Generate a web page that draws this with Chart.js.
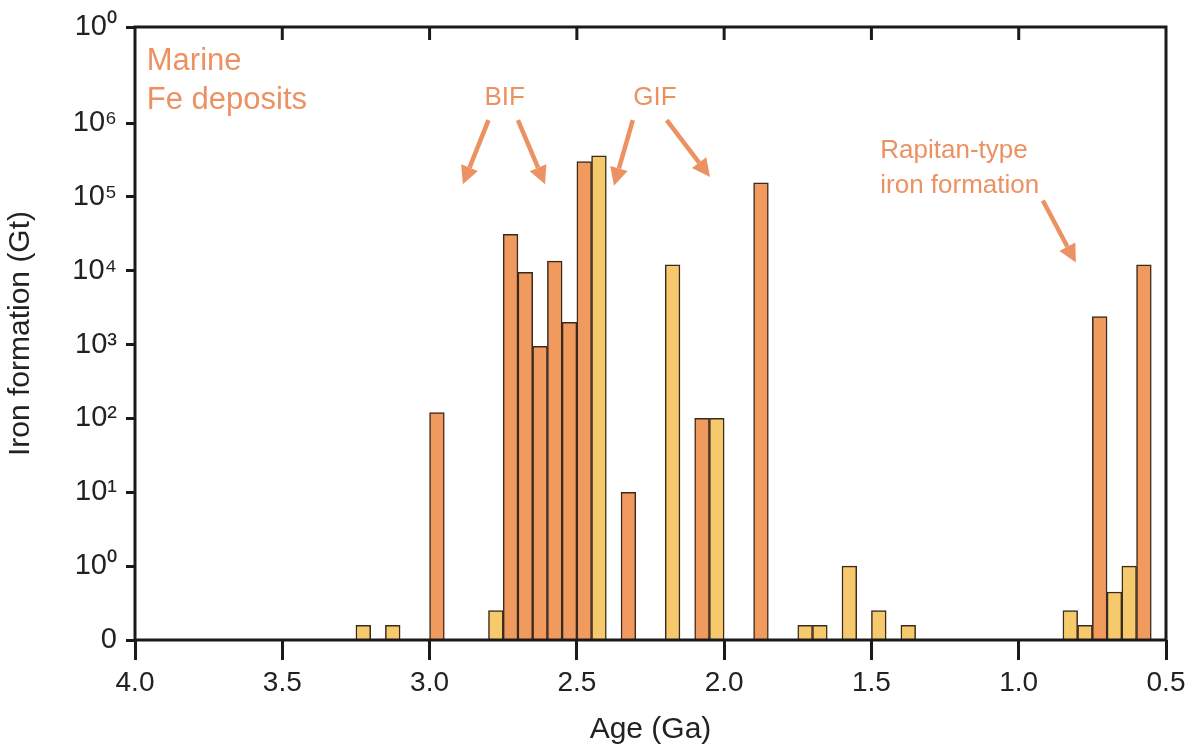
<!DOCTYPE html>
<html>
<head>
<meta charset="utf-8">
<title>Marine Fe deposits</title>
<script src="https://cdn.jsdelivr.net/npm/chart.js@4.4.0/dist/chart.umd.min.js"></script>
<style>
  html, body { margin: 0; padding: 0; background: #fff; }
  #wrap { width: 1195px; height: 749px; }
</style>
</head>
<body>
<div id="wrap"><canvas id="chart" width="1195" height="749"></canvas></div>
<script>
// Bin centres (Ga) and iron formation per bin (Gt).
var orangeAges = [2.975, 2.725, 2.675, 2.625, 2.575, 2.525, 2.475, 2.325, 2.075, 1.875, 0.725, 0.575];
var orangeGt   = [120, 31000, 9500, 950, 13500, 2000, 300000, 10, 100, 155000, 2400, 12000];

var yellowAges = [3.225, 3.125, 2.775, 2.425, 2.175, 2.025, 1.725, 1.675, 1.575, 1.475, 1.375, 0.825, 0.775, 0.675, 0.625];
var yellowGt   = [0.2, 0.2, 0.4, 360000, 12000, 100, 0.2, 0.2, 1, 0.4, 0.2, 0.4, 0.2, 0.65, 1];

var ageTicks = [4.0, 3.5, 3.0, 2.5, 2.0, 1.5, 1.0, 0.5];

// y axis: "0" at bottom, then one step per decade; top label as printed.
var yTickPos    = [0, 1, 2, 3, 4, 5, 6, 7, 8.3];
var yTickLabels = ['0', '10⁰', '10¹', '10²', '10³', '10⁴', '10⁵', '10⁶', '10⁰'];

var ORANGE = '#F09A5E';
var YELLOW = '#F6C96C';
var EDGE = '#3a2a1e';
var NOTE = '#EC9161';
var INK = '#1a1a1a';
var FONT = "'Liberation Sans', Arial, sans-serif";

// Gt -> axis position (log decades above the "0" step).
function toAxis(v) {
  return v >= 1 ? 1 + Math.log10(v) : v;
}

function points(ages, vals) {
  return ages.map(function(a, i) { return { x: a, y: toAxis(vals[i]) }; });
}

// Annotation text and arrows, placed in data coordinates (age, axis position).
var notes = [
  { text: 'Marine', age: 3.96, u: 7.84, align: 'left', size: 31 },
  { text: 'Fe deposits', age: 3.96, u: 7.30, align: 'left', size: 31 },
  { text: 'BIF', age: 2.745, u: 7.34, align: 'center', size: 26 },
  { text: 'GIF', age: 2.235, u: 7.34, align: 'center', size: 26 },
  { text: 'Rapitan-type', age: 1.47, u: 6.62, align: 'left', size: 26 },
  { text: 'iron formation', age: 1.47, u: 6.15, align: 'left', size: 26 }
];
var arrows = [
  [2.80, 7.04, 2.887, 6.17],
  [2.70, 7.04, 2.608, 6.17],
  [2.31, 7.04, 2.374, 6.15],
  [2.195, 7.04, 2.048, 6.27],
  [0.918, 5.95, 0.806, 5.11]
];

var framePlugin = {
  id: 'frame',
  afterDraw: function(chart) {
    var ctx = chart.ctx, a = chart.chartArea;
    var xs = chart.scales.x, ys = chart.scales.y;
    ctx.save();

    // inward ticks along the top edge
    ctx.strokeStyle = INK;
    ctx.lineWidth = 3;
    ageTicks.forEach(function(t) {
      if (t === 4.0 || t === 0.5) return;
      var px = xs.getPixelForValue(t);
      ctx.beginPath();
      ctx.moveTo(px, a.top);
      ctx.lineTo(px, a.top + 13);
      ctx.stroke();
    });

    // box
    ctx.strokeRect(a.left, a.top, a.right - a.left, a.bottom - a.top);

    // notes
    ctx.fillStyle = NOTE;
    ctx.textBaseline = 'middle';
    notes.forEach(function(n) {
      ctx.font = n.size + 'px ' + FONT;
      ctx.textAlign = n.align;
      ctx.fillText(n.text, xs.getPixelForValue(n.age), ys.getPixelForValue(n.u));
    });

    // arrows
    ctx.strokeStyle = NOTE;
    ctx.lineWidth = 4.5;
    ctx.lineCap = 'butt';
    arrows.forEach(function(r) {
      var x0 = xs.getPixelForValue(r[0]), y0 = ys.getPixelForValue(r[1]);
      var x1 = xs.getPixelForValue(r[2]), y1 = ys.getPixelForValue(r[3]);
      var ang = Math.atan2(y1 - y0, x1 - x0);
      var head = 18, half = 9;
      var bx = x1 - head * Math.cos(ang), by = y1 - head * Math.sin(ang);
      ctx.beginPath();
      ctx.moveTo(x0, y0);
      ctx.lineTo(bx, by);
      ctx.stroke();
      ctx.beginPath();
      ctx.moveTo(x1, y1);
      ctx.lineTo(bx + half * Math.sin(ang), by - half * Math.cos(ang));
      ctx.lineTo(bx - half * Math.sin(ang), by + half * Math.cos(ang));
      ctx.closePath();
      ctx.fill();
    });

    ctx.restore();
  }
};

var barStyle = { borderColor: EDGE, borderWidth: 1.5, borderSkipped: 'start' };

new Chart(document.getElementById('chart'), {
  type: 'bar',
  data: {
    datasets: [
      Object.assign({ label: 'Fe deposits (orange)', data: points(orangeAges, orangeGt), backgroundColor: ORANGE }, barStyle),
      Object.assign({ label: 'Fe deposits (yellow)', data: points(yellowAges, yellowGt), backgroundColor: YELLOW }, barStyle)
    ]
  },
  options: {
    responsive: false,
    animation: false,
    layout: { padding: { top: 27, right: 29, left: 0, bottom: 0 } },
    datasets: { bar: { grouped: false, barPercentage: 1, categoryPercentage: 1 } },
    plugins: { legend: { display: false }, tooltip: { enabled: false } },
    scales: {
      x: {
        type: 'linear',
        reverse: true,
        min: 0.5,
        max: 4.0,
        offset: false,
        afterBuildTicks: function(s) { s.ticks = ageTicks.map(function(v) { return { value: v }; }); },
        afterFit: function(s) { s.height = 109; },
        border: { display: false },
        grid: { drawOnChartArea: false, offset: false, tickLength: 20, tickWidth: 3, tickColor: INK },
        ticks: {
          padding: 6, color: '#222', autoSkip: false, maxRotation: 0,
          font: { family: FONT, size: 28 },
          callback: function(v) { return Number(v).toFixed(1); }
        },
        title: { display: true, text: 'Age (Ga)', color: '#222', font: { family: FONT, size: 30 }, padding: { top: 0, bottom: 1 } }
      },
      y: {
        type: 'linear',
        min: 0,
        max: 8.3,
        afterBuildTicks: function(s) { s.ticks = yTickPos.map(function(v) { return { value: v }; }); },
        afterFit: function(s) { s.width = 135; },
        border: { display: false },
        grid: { drawOnChartArea: false, tickLength: 9, tickWidth: 3, tickColor: INK },
        ticks: {
          padding: 9, color: '#222', autoSkip: false,
          font: { family: FONT, size: 29 },
          callback: function(v) {
            var i = yTickPos.indexOf(v);
            return i >= 0 ? yTickLabels[i] : '';
          }
        },
        title: { display: true, text: 'Iron formation (Gt)', color: '#222', font: { family: FONT, size: 30 }, padding: { top: 3, bottom: 0 } }
      }
    }
  },
  plugins: [framePlugin]
});
</script>
</body>
</html>
